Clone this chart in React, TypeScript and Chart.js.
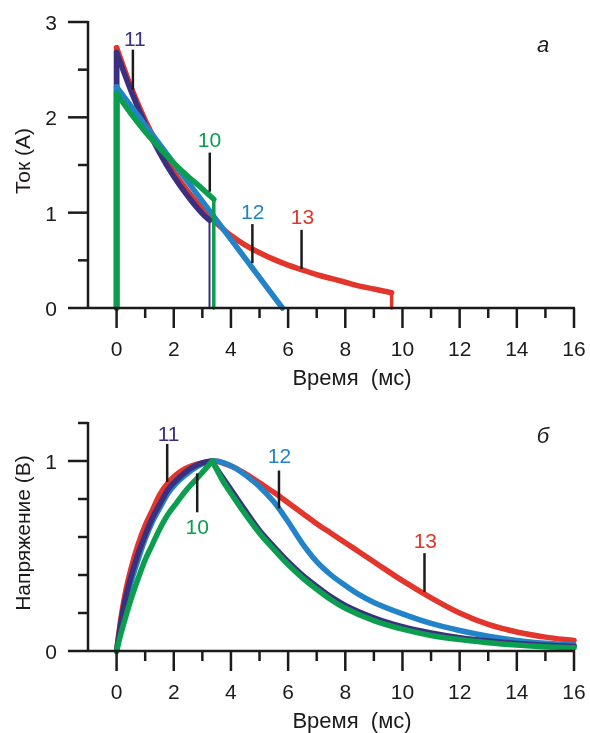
import React, { useEffect, useRef } from "react";
import { Chart, registerables } from "chart.js";

Chart.register(...registerables);

// ---------- Top chart: current (A) ---- null = break between vertical edge and curve
const curTime13 = [0, 0, 0, 0, 0.5, 1, 1.5, 2, 2.5, 3, 3.5, 4, 4.5, 5, 5.5, 6, 6.5, 7, 7.5, 8, 8.5, 9, 9.62, 9.62, 9.62, 9.62];
const cur13 = [0, 2.73, null, 2.73, 2.32, 1.97, 1.68, 1.43, 1.22, 1.04, 0.89, 0.76, 0.66, 0.58, 0.51, 0.45, 0.4, 0.35, 0.31, 0.27, 0.23, 0.2, 0.16, null, 0.16, 0];
const curTime11 = [0, 0, 0, 0, 0.5, 1, 1.5, 2, 2.5, 3, 3.25, 3.25, 3.25, 3.25];
const cur11 = [0, 2.68, null, 2.68, 2.28, 1.93, 1.63, 1.38, 1.17, 0.99, 0.92, null, 0.92, 0];
const curTime12 = [0, 0, 0, 0, 5.8];
const cur12 = [0, 2.32, null, 2.32, 0];
const curTime10 = [0, 0, 0, 0, 0.5, 1, 1.5, 2, 2.5, 3, 3.4, 3.4, 3.4, 3.4];
const cur10 = [0, 2.25, null, 2.25, 2.04, 1.85, 1.68, 1.52, 1.38, 1.25, 1.14, null, 1.14, 0];

// ---------- Bottom chart: voltage (V) ----------
const vTime10 = [0, 0.15, 0.3, 0.5, 0.75, 1.0, 1.25, 1.5, 1.8, 2.1, 2.4, 2.7, 3.0, 3.35, 3.35, 3.35, 3.7, 4.0, 4.5, 5.0, 5.5, 6.0, 6.5, 7.0, 7.5, 8, 9, 10, 11, 12, 13, 14, 15, 16];
const volt10 = [0, 0.09, 0.17, 0.27, 0.38, 0.48, 0.56, 0.64, 0.72, 0.78, 0.84, 0.89, 0.94, 1.0, null, 1.0, 0.9, 0.83, 0.72, 0.62, 0.535, 0.455, 0.385, 0.325, 0.27, 0.225, 0.16, 0.115, 0.082, 0.06, 0.044, 0.032, 0.023, 0.017];
const vTime11 = [0, 0.15, 0.3, 0.5, 0.75, 1.0, 1.25, 1.5, 1.8, 2.1, 2.4, 2.7, 3.0, 3.33, 3.33, 3.33, 3.7, 4.0, 4.5, 5.0, 5.5, 6.0, 6.5, 7.0, 7.5, 8, 9, 10, 11, 12, 13, 14, 15, 16];
const volt11 = [0, 0.15, 0.27, 0.39, 0.51, 0.61, 0.7, 0.77, 0.85, 0.9, 0.94, 0.97, 0.99, 1.0, null, 1.0, 0.915, 0.85, 0.74, 0.635, 0.55, 0.47, 0.4, 0.34, 0.285, 0.24, 0.175, 0.128, 0.095, 0.07, 0.053, 0.04, 0.03, 0.024];
const vTimeSmooth = [0, 0.15, 0.3, 0.5, 0.75, 1.0, 1.25, 1.5, 1.8, 2.1, 2.4, 2.7, 3.0, 3.42, 3.8, 4.2, 4.6, 5.0, 5.5, 6.0, 6.5, 7.0, 7.5, 8, 8.5, 9, 10, 11, 12, 13, 14, 15, 16];
const volt13 = [0, 0.17, 0.3, 0.43, 0.56, 0.66, 0.74, 0.82, 0.885, 0.93, 0.96, 0.978, 0.99, 1.0, 0.985, 0.96, 0.925, 0.885, 0.835, 0.78, 0.725, 0.67, 0.62, 0.57, 0.52, 0.47, 0.37, 0.28, 0.2, 0.14, 0.1, 0.073, 0.055];
const volt12 = [0, 0.13, 0.24, 0.36, 0.48, 0.59, 0.68, 0.75, 0.83, 0.885, 0.925, 0.96, 0.985, 1.0, 0.988, 0.958, 0.915, 0.865, 0.785, 0.68, 0.565, 0.47, 0.4, 0.345, 0.295, 0.255, 0.195, 0.145, 0.108, 0.078, 0.056, 0.041, 0.031];

// ---------- Ticks & labels ----------
const xMajorTicks = [0, 2, 4, 6, 8, 10, 12, 14, 16];
const xMinorTicks = [1, 3, 5, 7, 9, 11, 13, 15];
const topYMajor = [0, 1, 2, 3];
const topYMinor = [0.5, 1.5, 2.5];
const botYMajor = [0, 1];
const botYMinor = [0.2, 0.4, 0.6, 0.8, 1.2];
const xTitle = "Время  (мс)";
const topYTitle = "Ток (А)";
const botYTitle = "Напряжение (В)";
const seriesNames = ["10", "11", "12", "13"];

const C10 = "#0a9e4e";
const C11 = "#3b2f80";
const C12 = "#2283c8";
const C13 = "#e2352b";
const INK = "#1d1a1a";
const FONT = '"Liberation Sans", Arial, sans-serif';

const pts = (xs: number[], ys: (number | null)[]) => xs.map((x, i) => ({ x, y: ys[i] }));

const ds = (data: any, color: string, dropWidth = 5.5) => ({
  data,
  borderColor: color,
  backgroundColor: color,
  borderWidth: 5.5,
  pointRadius: 0,
  fill: false,
  spanGaps: false,
  cubicInterpolationMode: "monotone",
  borderCapStyle: "round",
  borderJoinStyle: "round",
  clip: false,
  segment: {
    borderWidth: (c: any) =>
      c.p0.parsed.x === c.p1.parsed.x && c.p0.parsed.x > 0 ? dropWidth : 5.5,
  },
});

type Ann = { name: string; color: string; tx: number; ty: number; lx: number; ly1: number; ly2: number };

function makeDecor(spec: {
  id: string;
  yMax: number;
  yMajor: number[];
  yMinor: number[];
  yTitle: string;
  yTitleCenter: number;
  letter: string;
  letterPos: [number, number];
  anns: Ann[];
}) {
  return {
    id: spec.id,
    afterDraw(chart: any) {
      const { ctx } = chart;
      const xs = chart.scales.x;
      const ys = chart.scales.y;
      const X = (v: number) => xs.getPixelForValue(v);
      const Y = (v: number) => ys.getPixelForValue(v);
      const x0 = X(-1);
      const yb = Y(0);
      ctx.save();
      ctx.strokeStyle = INK;
      ctx.fillStyle = INK;
      ctx.lineCap = "butt";
      ctx.lineWidth = 2.5;
      const seg = (a: number, b: number, c: number, d: number) => {
        ctx.beginPath();
        ctx.moveTo(a, b);
        ctx.lineTo(c, d);
        ctx.stroke();
      };
      // axes
      seg(x0, Y(spec.yMax) - 1, x0, yb);
      seg(x0, yb, X(16) + 1, yb);
      // y ticks
      spec.yMajor.forEach((v) => seg(x0 - 20, Y(v), x0, Y(v)));
      spec.yMinor.forEach((v) => seg(x0 - 10, Y(v), x0, Y(v)));
      // x ticks
      xMajorTicks.forEach((v) => seg(X(v), yb, X(v), yb + 20));
      xMinorTicks.forEach((v) => seg(X(v), yb, X(v), yb + 10));
      // tick labels
      ctx.font = `21px ${FONT}`;
      ctx.textBaseline = "alphabetic";
      ctx.textAlign = "center";
      xMajorTicks.forEach((v) => ctx.fillText(String(v), X(v), yb + 48));
      ctx.textAlign = "right";
      spec.yMajor.forEach((v) => ctx.fillText(String(v), x0 - 31, Y(v) + 8));
      // axis titles
      ctx.font = `22px ${FONT}`;
      ctx.textAlign = "center";
      ctx.fillText(xTitle, 352, yb + 77);
      ctx.save();
      ctx.translate(30, spec.yTitleCenter);
      ctx.rotate(-Math.PI / 2);
      ctx.font = `21px ${FONT}`;
      ctx.fillText(spec.yTitle, 0, 0);
      ctx.restore();
      // panel letter
      ctx.font = `italic 22px ${FONT}`;
      ctx.fillText(spec.letter, spec.letterPos[0], spec.letterPos[1]);
      // annotations
      ctx.lineWidth = 2.5;
      spec.anns.forEach((a) => {
        ctx.strokeStyle = INK;
        seg(X(a.lx), Y(a.ly1), X(a.lx), Y(a.ly2));
        ctx.fillStyle = a.color;
        ctx.font = `21px ${FONT}`;
        ctx.textAlign = "center";
        ctx.fillText(a.name, X(a.tx), Y(a.ty) + 8);
      });
      ctx.restore();
    },
  };
}

function baseOptions(yMax: number, xHeight: number, padTop: number) {
  return {
    responsive: false,
    animation: false,
    events: [],
    layout: { padding: { top: padTop, right: 16, left: 0, bottom: 0 } },
    plugins: { legend: { display: false }, tooltip: { enabled: false } },
    scales: {
      x: {
        type: "linear",
        min: -1,
        max: 16,
        grid: { display: false },
        border: { display: false },
        ticks: { display: false },
        afterFit: (s: any) => {
          s.height = xHeight;
        },
      },
      y: {
        type: "linear",
        min: 0,
        max: yMax,
        grid: { display: false },
        border: { display: false },
        ticks: { display: false },
        afterFit: (s: any) => {
          s.width = 88;
        },
      },
    },
  };
}

export default function App() {
  const topRef = useRef<HTMLCanvasElement>(null);
  const botRef = useRef<HTMLCanvasElement>(null);

  useEffect(() => {
    document.body.style.margin = "0";
    const topChart = new Chart(topRef.current as HTMLCanvasElement, {
      type: "line",
      data: {
        datasets: [
          ds(pts(curTime10, cur10), C10, 3.5),
          ds(pts(curTime12, cur12), C12),
          ds(pts(curTime11, cur11), C11, 2),
          ds(pts(curTime13, cur13), C13, 3.5),
        ] as any,
      },
      options: baseOptions(3, 92, 22) as any,
      plugins: [
        makeDecor({
          id: "decorTop",
          yMax: 3,
          yMajor: topYMajor,
          yMinor: topYMinor,
          yTitle: topYTitle,
          yTitleCenter: 161,
          letter: "а",
          letterPos: [543, 52],
          anns: [
            { name: seriesNames[1], color: C11, tx: 0.64, ty: 2.83, lx: 0.57, ly1: 2.71, ly2: 2.29 },
            { name: seriesNames[0], color: C10, tx: 3.25, ty: 1.77, lx: 3.26, ly1: 1.63, ly2: 1.22 },
            { name: seriesNames[2], color: C12, tx: 4.76, ty: 1.02, lx: 4.75, ly1: 0.88, ly2: 0.47 },
            { name: seriesNames[3], color: C13, tx: 6.5, ty: 0.97, lx: 6.47, ly1: 0.82, ly2: 0.41 },
          ],
        }),
      ],
    });
    const botChart = new Chart(botRef.current as HTMLCanvasElement, {
      type: "line",
      data: {
        datasets: [
          ds(pts(vTime10, volt10), C10),
          ds(pts(vTime11, volt11), C11),
          ds(pts(vTimeSmooth, volt12), C12),
          ds(pts(vTimeSmooth, volt13), C13),
        ] as any,
      },
      options: baseOptions(1.2, 82, 23) as any,
      plugins: [
        makeDecor({
          id: "decorBot",
          yMax: 1.2,
          yMajor: botYMajor,
          yMinor: botYMinor,
          yTitle: botYTitle,
          yTitleCenter: 133,
          letter: "б",
          letterPos: [543, 43],
          anns: [
            { name: seriesNames[1], color: C11, tx: 1.82, ty: 1.15, lx: 1.77, ly1: 1.09, ly2: 0.89 },
            { name: seriesNames[0], color: C10, tx: 2.82, ty: 0.66, lx: 2.82, ly1: 0.935, ly2: 0.73 },
            { name: seriesNames[2], color: C12, tx: 5.7, ty: 1.03, lx: 5.68, ly1: 0.95, ly2: 0.75 },
            { name: seriesNames[3], color: C13, tx: 10.8, ty: 0.585, lx: 10.77, ly1: 0.515, ly2: 0.31 },
          ],
        }),
      ],
    });
    return () => {
      topChart.destroy();
      botChart.destroy();
    };
  }, []);

  return (
    <div style={{ position: "fixed", left: 0, top: 0, width: 590, height: 733, background: "#fff" }}>
      <canvas ref={topRef} width={590} height={400} style={{ position: "absolute", left: 0, top: 0, width: 590, height: 400 }} />
      <canvas ref={botRef} width={590} height={333} style={{ position: "absolute", left: 0, top: 400, width: 590, height: 333 }} />
    </div>
  );
}
